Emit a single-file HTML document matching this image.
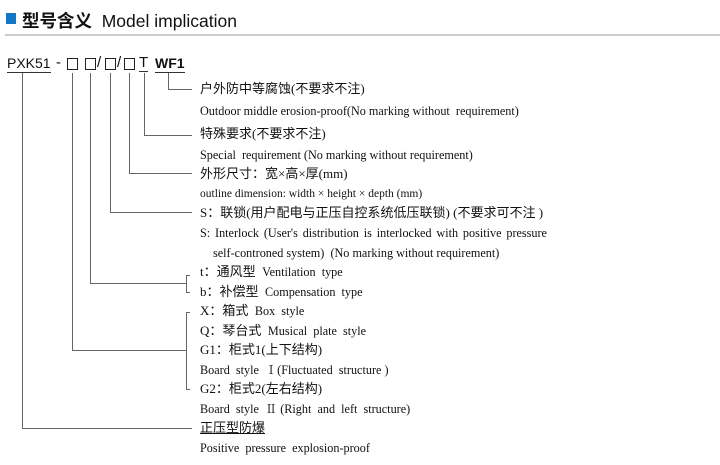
<!DOCTYPE html>
<html><head><meta charset="utf-8"><style>
body{margin:0;width:720px;height:465px;background:#fff;position:relative;overflow:hidden;font-family:"Liberation Serif","Noto Serif CJK SC",serif;color:#111}
.t{position:absolute;left:200px;white-space:nowrap;line-height:16px;font-size:12.2px}
.c{font-family:"Liberation Serif","Noto Sans CJK SC",serif;font-size:13px}
.h{position:absolute;left:22px;top:8px;font-family:"Liberation Sans","Noto Sans CJK SC",sans-serif;font-size:17.5px;white-space:nowrap}
.k{position:absolute;top:54px;font-family:"Liberation Sans","DejaVu Sans",sans-serif;font-size:15px;white-space:nowrap;line-height:17px}
.u{border-bottom:1px solid #333}
.sq{position:absolute;top:58px;width:9px;height:10px;border:1px solid #222}
</style></head><body>
<div style="position:absolute;left:6px;top:13px;width:10px;height:11px;background:#1477c6"></div>
<div class="h"><b>型号含义</b>&nbsp; Model implication</div>
<div style="position:absolute;left:5px;top:34px;width:715px;height:2px;background:#ccc"></div>
<div class="k u" style="left:7px;font-size:14px;top:55px">PXK51</div>
<div class="k" style="left:56px">-</div>
<div class="sq" style="left:67px"></div>
<div class="sq" style="left:85px"></div>
<div class="k" style="left:97px">/</div>
<div class="sq" style="left:105px"></div>
<div class="k" style="left:117px">/</div>
<div class="sq" style="left:124px"></div>
<div class="k u" style="left:139px">T</div>
<div class="k u" style="left:155px;font-weight:bold;font-size:14px;top:55px">WF1</div>
<svg width="720" height="465" style="position:absolute;left:0;top:0" fill="none" stroke="#666" stroke-width="1">
<path d="M168.5 73V89.5H192"/>
<path d="M144.5 73V135.5H192"/>
<path d="M129.5 73V173.5H192"/>
<path d="M110.5 73V212.5H192"/>
<path d="M90.5 73V283.5H186"/>
<path d="M190 275.5H186.5V292.5H190"/>
<path d="M72.5 73V350.5H186"/>
<path d="M190 312.5H186.5V389.5H190"/>
<path d="M22.5 73V428.5H192"/>
</svg>
<div class="t c" style="top:81px">户外防中等腐蚀(不要求不注)</div>
<div class="t" style="top:103px">Outdoor middle erosion-proof(No marking without&nbsp; requirement)</div>
<div class="t c" style="top:126px">特殊要求(不要求不注)</div>
<div class="t" style="top:147px">Special&nbsp; requirement (No marking without requirement)</div>
<div class="t c" style="top:166px">外形尺寸：宽×高×厚(mm)</div>
<div class="t" style="top:186px;font-size:11.5px">outline dimension: width × height × depth (mm)</div>
<div class="t c" style="top:205px">S：联锁(用户配电与正压自控系统低压联锁) (不要求可不注 )</div>
<div class="t" style="top:225px;word-spacing:1.8px">S: Interlock (User's distribution is interlocked with positive pressure</div>
<div class="t" style="top:245px;left:213px">self-controned system)&nbsp; (No marking without requirement)</div>
<div class="t c" style="top:264px">t：通风型 &nbsp;<span style="font-family:'Liberation Serif',serif;font-size:12.2px">Ventilation&nbsp; type</span></div>
<div class="t c" style="top:284px">b：补偿型 &nbsp;<span style="font-family:'Liberation Serif',serif;font-size:12.2px">Compensation&nbsp; type</span></div>
<div class="t c" style="top:303px">X：箱式 &nbsp;<span style="font-family:'Liberation Serif',serif;font-size:12.2px">Box&nbsp; style</span></div>
<div class="t c" style="top:323px">Q：琴台式 &nbsp;<span style="font-family:'Liberation Serif',serif;font-size:12.2px">Musical&nbsp; plate&nbsp; style</span></div>
<div class="t c" style="top:342px">G1：柜式1(上下结构)</div>
<div class="t" style="top:362px">Board&nbsp; style &nbsp;Ⅰ(Fluctuated&nbsp; structure )</div>
<div class="t c" style="top:381px">G2：柜式2(左右结构)</div>
<div class="t" style="top:401px">Board&nbsp; style &nbsp;Ⅱ (Right&nbsp; and&nbsp; left&nbsp; structure)</div>
<div class="t c" style="top:420px;text-decoration:underline">正压型防爆</div>
<div class="t" style="top:440px">Positive&nbsp; pressure&nbsp; explosion-proof</div>
</body></html>
